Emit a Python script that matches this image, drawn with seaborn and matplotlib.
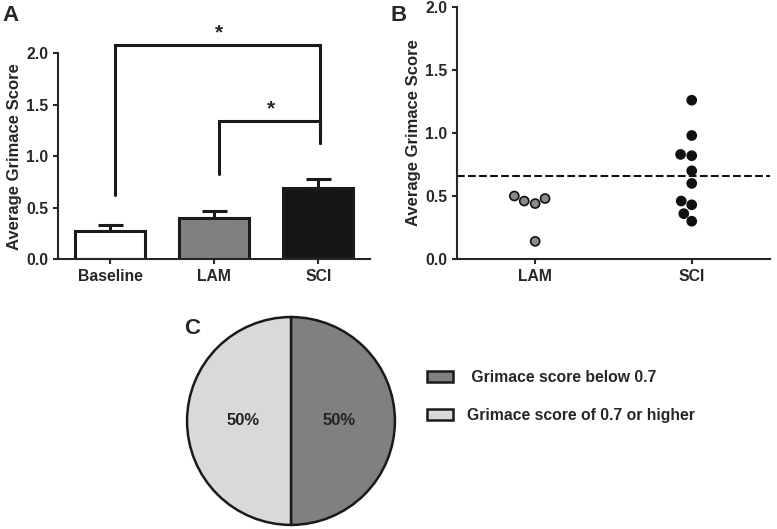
import pandas as pd
import matplotlib
matplotlib.use('Agg')
import matplotlib.pyplot as plt
import seaborn as sns

# panel A: mean grimace score with SEM (upper half only)
groups_a = ['Baseline', 'LAM', 'SCI']
means_a = [0.27, 0.40, 0.69]
sem_a = [0.06, 0.07, 0.09]
bar_colors = ['#ffffff', '#808080', '#161616']

# significance brackets: (left group, right group, bar height, left leg end, right leg end)
brackets = [(0, 2, 2.08, 0.62, 1.13), (1, 2, 1.34, 0.83, 1.13)]

# panel B: individual animals
lam_scores = [0.50, 0.46, 0.44, 0.48, 0.14]
sci_scores = [1.26, 0.98, 0.82, 0.83, 0.70, 0.60, 0.46, 0.43, 0.36, 0.30]
threshold = 0.66

# panel C
pie_labels = [' Grimace score below 0.7', 'Grimace score of 0.7 or higher']
pie_values = [50, 50]
pie_colors = ['#808080', '#d9d9d9']

sns.set_style('ticks')
plt.rcParams['font.family'] = ['Liberation Sans', 'DejaVu Sans']
plt.rcParams['font.weight'] = 'bold'
plt.rcParams['axes.labelweight'] = 'bold'
plt.rcParams['axes.linewidth'] = 1.5
plt.rcParams['xtick.major.width'] = 1.5
plt.rcParams['ytick.major.width'] = 1.5
plt.rcParams['xtick.major.size'] = 3.5
plt.rcParams['ytick.major.size'] = 3.5

fig = plt.figure(figsize=(7.77, 5.29), dpi=100)

# ---- A ----
axA = fig.add_axes([0.0746, 0.5104, 0.402, 0.389])
dfA = pd.DataFrame({'group': groups_a, 'score': means_a})
sns.barplot(data=dfA, x='group', y='score', hue='group', palette=bar_colors,
            width=0.67, edgecolor='#1a1a1a', linewidth=2.2, errorbar=None,
            legend=False, ax=axA, zorder=2)
axA.errorbar(range(len(groups_a)), means_a, yerr=[[0] * 3, sem_a], fmt='none',
             ecolor='#1a1a1a', elinewidth=2.2, capsize=9, capthick=2.2, zorder=1)
for l, r, h, yl, yr in brackets:
    axA.plot([l + 0.05, l + 0.05, r + 0.02, r + 0.02], [yl, h, h, yr],
             color='#1a1a1a', lw=2.2, clip_on=False, solid_joinstyle='miter')
    axA.text((l + r) / 2 + 0.05, h + 0.03, '*', ha='center', va='bottom',
             fontsize=15, fontweight='bold')
axA.set_xlim(-0.5, 2.5)
axA.set_ylim(0, 2.0)
axA.set_yticks([0, 0.5, 1.0, 1.5, 2.0])
axA.set_yticklabels(['0.0', '0.5', '1.0', '1.5', '2.0'])
axA.set_xlabel('')
axA.set_ylabel('Average Grimace Score', fontsize=12, labelpad=3)
axA.tick_params(labelsize=11.3)
sns.despine(ax=axA)

# ---- B ----
axB = fig.add_axes([0.588, 0.5104, 0.403, 0.4764])
dfB = pd.DataFrame({'group': ['LAM'] * len(lam_scores) + ['SCI'] * len(sci_scores),
                    'score': lam_scores + sci_scores})
sns.swarmplot(data=dfB, x='group', y='score', hue='group',
              palette={'LAM': '#8a8a8a', 'SCI': '#111111'}, size=6.5,
              edgecolor='#111111', linewidth=1.2, legend=False, ax=axB)
axB.axhline(threshold, color='#111111', ls='--', lw=1.5)
axB.set_xlim(-0.5, 1.5)
axB.set_ylim(0, 2.0)
axB.set_yticks([0, 0.5, 1.0, 1.5, 2.0])
axB.set_yticklabels(['0.0', '0.5', '1.0', '1.5', '2.0'])
axB.set_xlabel('')
axB.set_ylabel('Average Grimace Score', fontsize=12, labelpad=3)
axB.tick_params(labelsize=11.3)
sns.despine(ax=axB)

# ---- C ----
axC = fig.add_axes([0.238, 0.0038, 0.273, 0.4008])
wedges, texts, autotexts = axC.pie(pie_values, colors=pie_colors, startangle=90,
                                   counterclock=False, autopct='%d%%', pctdistance=0.46,
                                   wedgeprops=dict(edgecolor='#1a1a1a', linewidth=1.8),
                                   textprops=dict(fontsize=12, fontweight='bold', color='#222222'))
axC.set_xlim(-1.02, 1.02)
axC.set_ylim(-1.02, 1.02)
axC.set_aspect('equal')
fig.legend(wedges, pie_labels, loc='upper left', bbox_to_anchor=(0.532, 0.328),
           frameon=False, fontsize=11.3, handlelength=1.6, handleheight=0.7,
           labelspacing=1.5, handletextpad=0.9)

fig.text(0.003, 0.99, 'A', fontsize=16, fontweight='bold', va='top')
fig.text(0.502, 0.99, 'B', fontsize=16, fontweight='bold', va='top')
fig.text(0.237, 0.398, 'C', fontsize=16, fontweight='bold', va='top')

fig.savefig('out.png', dpi=100)
